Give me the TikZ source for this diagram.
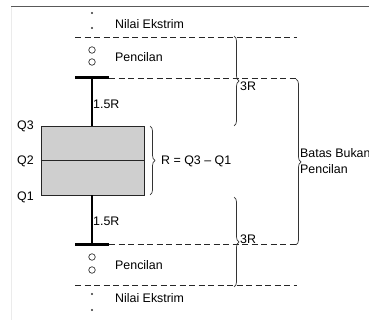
\documentclass[tikz,border=0pt]{standalone}
\usepackage{fontspec}
\setmainfont{Liberation Sans}
\usetikzlibrary{decorations.pathreplacing}
\begin{document}
\begin{tikzpicture}[x=1pt,y=-1pt,
  lbl/.style={font=\fontsize{12.4}{15.5}\selectfont,inner sep=0pt,anchor=west},
  dashln/.style={draw=black!85,dash pattern=on 6pt off 3.5pt,line width=0.8pt},
  whisk/.style={line width=2.6pt},
  capln/.style={line width=3pt},
  brc/.style={decorate,decoration={brace,amplitude=5pt},line width=0.7pt,draw=black!80},
  outl/.style={draw=black!85,line width=0.7pt},
  dotpt/.style={circle,fill=black!80,inner sep=0pt,minimum size=2.4pt},
  ring/.style={circle,draw=black!80,line width=0.7pt,inner sep=0pt,minimum size=6.5pt}]
\useasboundingbox (0,0) rectangle (369,320);
\clip (0,0) rectangle (369,320);
% frame lines
\draw[black!65,line width=1pt] (11,7) -- (369,7);
\draw[black!8,line width=1pt] (11.5,7) -- (11.5,320);
% coordinates
\coordinate (tcL) at (75,78); \coordinate (tcR) at (109,78);
\coordinate (bcL) at (75,244); \coordinate (bcR) at (109,244);
\coordinate (d1L) at (75,37); \coordinate (d1R) at (297,37);
\coordinate (d2R) at (297,78);
\coordinate (d3R) at (297,244);
\coordinate (d4L) at (75,285); \coordinate (d4R) at (297,285);
% box
\node[outl,fill=black!19,minimum width=103pt,minimum height=69pt,inner sep=0pt] (box) at (92.5,160.5) {};
\draw[outl] (box.west) -- (box.east);
% whiskers
\coordinate (wt) at (92,78); \coordinate (wb) at (92,244);
\draw[whisk] (box.north -| wt) -- (wt);
\draw[whisk] (box.south -| wb) -- (wb);
\draw[capln] (tcL) -- (tcR);
\draw[capln] (bcL) -- (bcR);
% dashed lines
\draw[dashln] (d1L) -- (d1R);
\draw[dashln] (tcR) -- (d2R);
\draw[dashln] (bcR) -- (d3R);
\draw[dashln] (d4L) -- (d4R);
% points
\node[dotpt] (e1) at (92,13) {};
\node[dotpt] (e2) at (92,28) {};
\node[ring] (o1) at (92,50) {};
\node[ring] (o2) at (92,62) {};
\node[ring] (o3) at (92,257) {};
\node[ring] (o4) at (92,270) {};
\node[dotpt] (e3) at (92,294) {};
\node[dotpt] (e4) at (92,310) {};
% labels
\node[lbl] (ne1) at (115,24) {Nilai Ekstrim};
\node[lbl] (pc1) at (115,57) {Pencilan};
\node[lbl] (r1) at (93,104) {1.5R};
\node[lbl] (r2) at (93,221) {1.5R};
\node[lbl] (pc2) at (115,265) {Pencilan};
\node[lbl] (ne2) at (115,298) {Nilai Ekstrim};
\node[lbl] (q3) at (17,126) {Q3};
\node[lbl] (q2) at (17,161) {Q2};
\node[lbl] (q1) at (17,197) {Q1};
% braces
\draw[brc] (150,126) -- (150,195);
\node[lbl] (rq) at (161,161) {R = Q3 -- Q1};
\draw[brc] (234,36) -- (234,126);
\node[lbl] (t1) at (240,86) {3R};
\draw[brc] (234,197) -- (234,287);
\node[lbl] (t2) at (240,239) {3R};
\draw[brc] (296,79) -- (296,245);
\node[lbl,align=left] (bb) at (300,161) {Batas Bukan\\Pencilan};
\end{tikzpicture}
\end{document}
